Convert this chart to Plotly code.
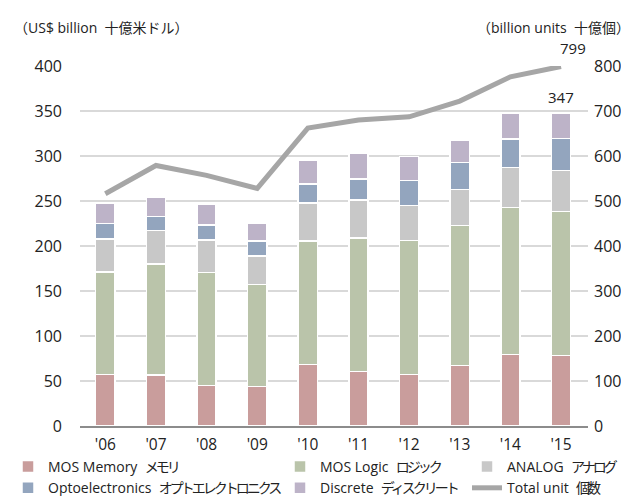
import plotly.graph_objects as go

years = ["'06", "'07", "'08", "'09", "'10", "'11", "'12", "'13", "'14", "'15"]
memory = [57.3, 56.6, 45.0, 43.7, 68.5, 60.3, 57.0, 67.4, 79.6, 78.5]
logic = [113.7, 123.4, 125.7, 113.3, 136.8, 148.7, 149.0, 155.2, 163.0, 160.0]
analog = [37.0, 37.0, 35.9, 32.0, 42.5, 42.0, 38.8, 40.0, 44.4, 45.5]
opto = [16.8, 16.0, 16.7, 16.5, 21.2, 23.4, 27.8, 30.0, 31.9, 35.2]
discrete = [22.2, 21.4, 22.7, 19.5, 26.0, 28.6, 27.0, 25.4, 28.4, 27.8]
total_units = [516, 579, 557, 528, 662, 680, 687, 722, 776, 799]

latin = ["MOS Memory", "MOS Logic", "ANALOG", "Optoelectronics", "Discrete"]
japanese = ["メモリ", "ロジック", "アナログ", "オプトエレクトロニクス", "ディスクリート"]
colors = ["#C99D9C", "#BAC4AA", "#C8C8C8", "#93A5BE", "#BDB3C8"]
legends = ["legend", "legend2", "legend3", "legend", "legend2"]
series = [memory, logic, analog, opto, discrete]

FONT = "Open Sans, Noto Sans CJK JP, sans-serif"
TXT = "#222222"
JP = '<span style="letter-spacing:-3px">{}</span>'
GAP = "\u00a0\u00a0"


def label(a, b):
    return a + GAP + JP.format(b)


fig = go.Figure()
for la, ja, col, lg, vals in zip(latin, japanese, colors, legends, series):
    fig.add_trace(go.Bar(
        x=years, y=vals, name=label(la, ja), legend=lg,
        marker=dict(color=col, line=dict(color="white", width=1.5)),
    ))

fig.add_trace(go.Scatter(
    x=years, y=total_units, name=label("Total unit", "個数"), yaxis="y2",
    legend="legend3", mode="lines", line=dict(color="#A6A6A6", width=5),
))

leg = dict(xref="container", yref="container", y=0.0, xanchor="left",
           yanchor="bottom", bgcolor="rgba(0,0,0,0)", font=dict(size=14),
           tracegroupgap=0, itemwidth=30, traceorder="normal")

fig.update_layout(
    width=629, height=496,
    margin=dict(l=72, r=49, t=58, b=78, autoexpand=False),
    barmode="stack", bargap=0.62,
    plot_bgcolor="white", paper_bgcolor="white",
    font=dict(family=FONT, size=15, color=TXT),
    xaxis=dict(showgrid=False, showline=True, linecolor="#8C8C8C", linewidth=2,
               ticks="", tickfont=dict(size=15.5), ticklabelstandoff=3),
    yaxis=dict(range=[0, 400], dtick=50, showgrid=True, gridcolor="#D9D9D9",
               gridwidth=1.5, zeroline=False, ticks="", ticklabelstandoff=17,
               tickfont=dict(size=16)),
    yaxis2=dict(range=[0, 800], dtick=100, overlaying="y", side="right",
                showgrid=False, zeroline=False, ticks="", ticklabelstandoff=5,
                tickfont=dict(size=16)),
    legend=dict(leg, x=0.0),
    legend2=dict(leg, x=272 / 629),
    legend3=dict(leg, x=459 / 629),
    annotations=[
        dict(text="（US$ billion" + GAP + "十億米ドル）",
             xref="paper", yref="paper", x=(4 - 72) / 508, y=(418 - 20) / 360,
             xanchor="left", yanchor="middle", showarrow=False,
             font=dict(size=14)),
        dict(text="（billion units" + GAP + "十億個）",
             xref="paper", yref="paper", x=(624 - 72) / 508, y=(418 - 20) / 360,
             xanchor="right", yanchor="middle", showarrow=False,
             font=dict(size=14)),
        dict(text=str(round(sum(v[-1] for v in series))), x=years[-1],
             y=sum(v[-1] for v in series), xref="x", yref="y",
             yanchor="bottom", yshift=5, showarrow=False, font=dict(size=15)),
        dict(text=str(total_units[-1]), x=years[-1], y=total_units[-1],
             xref="x", yref="y2", yanchor="bottom", yshift=6, xshift=12,
             showarrow=False, font=dict(size=15)),
    ],
)

fig.write_html("out.html")
